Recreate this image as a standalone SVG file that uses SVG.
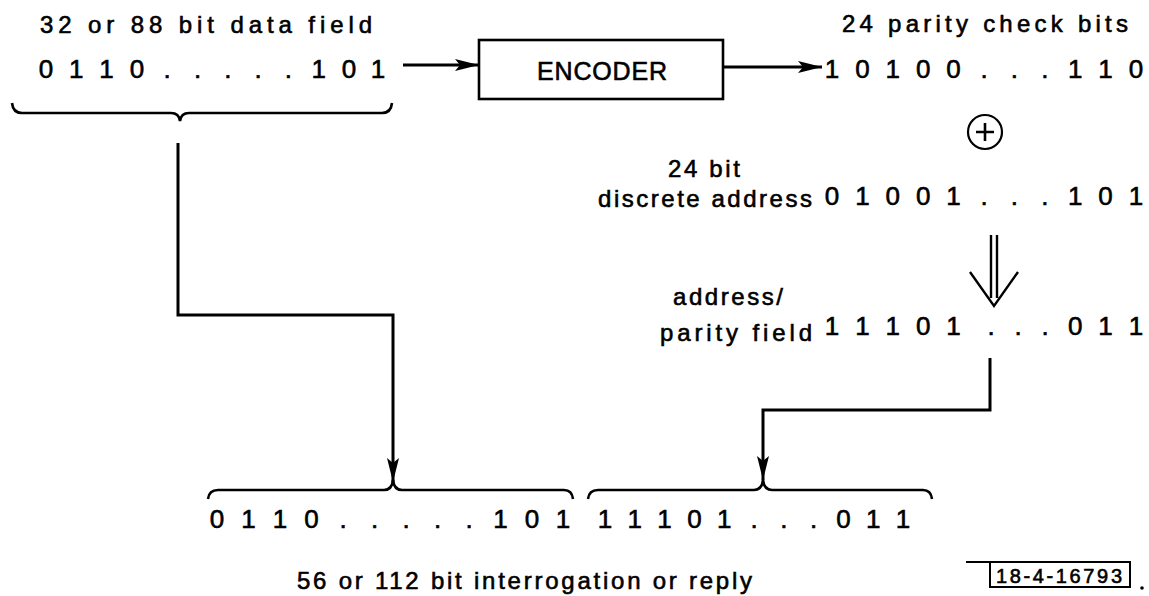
<svg xmlns="http://www.w3.org/2000/svg" width="1149" height="596" viewBox="0 0 1149 596">
<style>
text{font-family:"Liberation Sans","DejaVu Sans",Arial,sans-serif;fill:#000;stroke:#000;stroke-width:0.6}
.lbl{font-size:24px}
.bits{font-size:26px;text-anchor:middle}
.ln{fill:none;stroke:#000;stroke-width:3}
.br{fill:none;stroke:#000;stroke-width:2.6}
</style>
<defs>
<marker id="ah" viewBox="0 0 24 12" refX="24" refY="6" markerWidth="24" markerHeight="12" markerUnits="userSpaceOnUse" orient="auto">
<path d="M0,0 L24,6 L0,12 L5,6 Z" fill="#000"/>
</marker>
</defs>
<rect width="1149" height="596" fill="#fff"/>

<g id="data-field">
<text class="lbl" x="40" y="33" textLength="332" lengthAdjust="spacing">32 or 88 bit data field</text>
<text class="bits" y="78" x="46 76.3 106.6 136.9 167.2 197.5 227.8 258.1 288.4 318.7 349 378">0110.....101</text>
<path class="br" d="M12,103 Q13,113 22,113 L171,113 Q179,113 180,121 Q181,113 189,113 L382,113 Q391,113 392,103"/>
</g>

<g id="encoder">
<rect x="479" y="40" width="244" height="59" fill="none" stroke="#000" stroke-width="2.6"/>
<text x="537" y="80" font-size="25" textLength="130" lengthAdjust="spacing">ENCODER</text>
</g>

<g id="parity-bits">
<text class="lbl" x="842" y="32" textLength="286" lengthAdjust="spacing">24 parity check bits</text>
<text class="bits" y="78" x="832 862.4 892.8 923.2 953.6 984 1014.4 1044.8 1075.2 1105.6 1136">10100...110</text>
</g>

<g id="xor">
<circle cx="985" cy="132" r="17" fill="none" stroke="#000" stroke-width="2.2"/>
<path d="M985,123 V141 M976,132 H994" stroke="#000" stroke-width="2.6"/>
</g>

<g id="discrete-address">
<text class="lbl" x="704" y="177" text-anchor="middle" textLength="72" lengthAdjust="spacing">24 bit</text>
<text class="lbl" x="598" y="207" textLength="214" lengthAdjust="spacing">discrete address</text>
<text class="bits" y="205" x="832 862.4 892.8 923.2 953.6 984 1014.4 1044.8 1075.2 1105.6 1136">01001...101</text>
</g>

<g id="address-parity">
<text class="lbl" x="728" y="305" text-anchor="middle" textLength="110" lengthAdjust="spacing">address/</text>
<text class="lbl" x="660" y="341" textLength="152" lengthAdjust="spacing">parity field</text>
<text class="bits" y="335" x="832 862.4 892.8 923.2 953.6 991 1018 1045 1075.2 1105.6 1136">11101...011</text>
</g>

<g id="output">
<path class="br" d="M208,499 Q209,490 218,490 L384,490 Q392,490 393,480 Q394,490 402,490 L564,490 Q572,490 573,499"/>
<path class="br" d="M588,499 Q589,490 598,490 L754,490 Q762,490 763,480 Q764,490 772,490 L923,490 Q931,490 932,499"/>
<text class="bits" y="528" x="217 248.5 280 311.5 343 374.5 406 437.5 469 500.5 532 563">0110.....101</text>
<text class="bits" y="528" x="605 634.8 664.6 694.4 724.2 754 783.8 813.6 843.4 873.2 903">11101...011</text>
<text class="lbl" x="297" y="589" textLength="455" lengthAdjust="spacing">56 or 112 bit interrogation or reply</text>
</g>

<g id="figure-number">
<path d="M966,562 H1130 V587 H990 V562" fill="none" stroke="#000" stroke-width="2"/>
<text x="996" y="583" font-size="20" textLength="126" lengthAdjust="spacing">18-4-16793</text>
<circle cx="1142" cy="588" r="1.8" fill="#000"/>
</g>

<g id="connectors">
<line class="ln" x1="403" y1="65" x2="479" y2="65" marker-end="url(#ah)"/>
<line class="ln" x1="723" y1="67" x2="822" y2="67" marker-end="url(#ah)"/>
<polyline class="ln" points="178,143 178,315 393,315 393,482" marker-end="url(#ah)"/>
<polyline class="ln" points="990,358 990,410 763,410 763,480" marker-end="url(#ah)"/>
<path d="M991,235 V298 M997,235 V298 M970,272 L994,306 L1018,272" fill="none" stroke="#000" stroke-width="2.4"/>
</g>
</svg>
